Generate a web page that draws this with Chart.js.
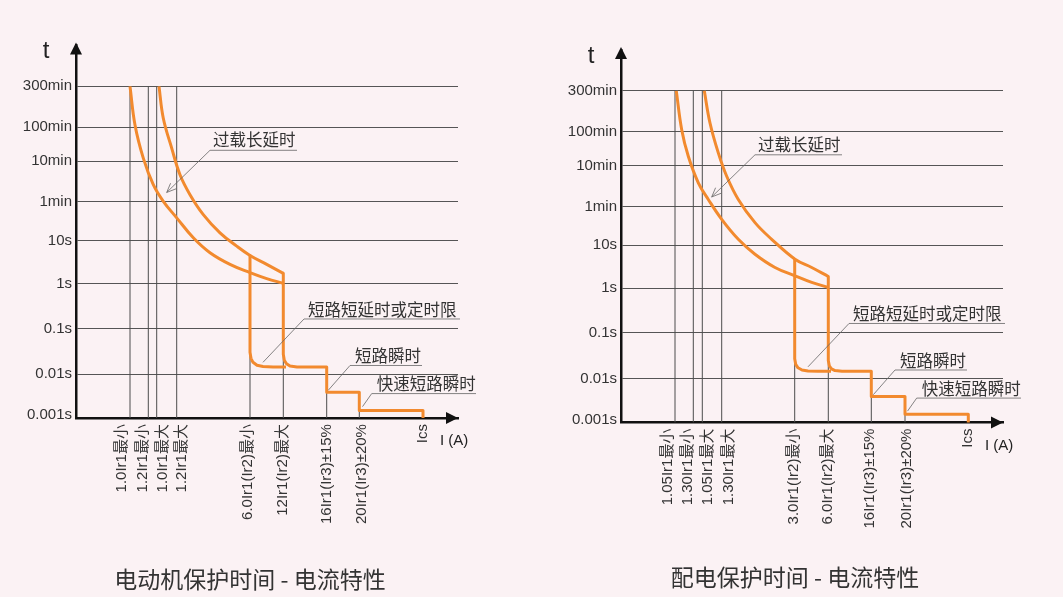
<!DOCTYPE html>
<html lang="zh-CN">
<head>
<meta charset="UTF-8">
<script src="https://cdn.jsdelivr.net/npm/chart.js"></script>
<style>
html, body { margin: 0; padding: 0; background: #fbf2f4; }
body { width: 1063px; height: 597px; position: relative; overflow: hidden; }
.panel { position: absolute; top: 0; width: 500px; height: 597px; }
#left { left: 0; }
#right { left: 545px; }
</style>
</head>
<body>
<div class="panel" id="left"><canvas id="chartL" width="500" height="597"></canvas></div>
<div class="panel" id="right"><canvas id="chartR" width="500" height="597"></canvas></div>
<script>
// time axis: schematic height above the I axis, with its labels
const yLevels = [3, 44, 90, 135, 178, 217, 258, 292, 333];
const yLabels = ['0.001s', '0.01s', '0.1s', '1s', '10s', '1min', '10min', '100min', '300min'];

// left panel - motor protection
const motorTitle = '电动机保护时间 - 电流特性';
const motorLabels = ['1.0Ir1最小', '1.2Ir1最小', '1.0Ir1最大', '1.2Ir1最大', '6.0Ir1(Ir2)最小', '12Ir1(Ir2)最大', '16Ir1(Ir3)±15%', '20Ir1(Ir3)±20%', 'Ics'];
const motorLabelPos = [45.7, 67.3, 87.3, 105.7, 172.3, 206.7, 250.7, 285.7, 346.7];
const motorLines = [54, 72.3, 80.7, 100.7, 174, 207.3, 250.7, 283.3];
const motorLineTop = [333, 333, 333, 333, 163.3, 145.3, 51.3, 26];
const motorUpper = [[83, 333], [87.3, 301], [95.7, 271], [104, 244.3], [114, 224.3], [127.3, 204.3], [144, 186], [160.7, 172.6], [174, 163.3], [190.7, 154.3], [207.3, 145.3]];
const motorLower = [[54, 333], [59, 294.3], [67.3, 261], [77.3, 234.3], [87.3, 217.6], [100.7, 201], [117.3, 181], [134, 166], [154, 154.3], [174, 146], [190.7, 140], [207.3, 135.3]];
const motorStepA = [[207.3, 145.3], [207.3, 64], [208.3, 58], [210.5, 54.5], [214, 52.2], [221, 51.3], [250.7, 51.3], [250.7, 26], [283.3, 26], [283.3, 7.6], [347, 7.6], [347, 0]];
const motorStepB = [[174, 163.3], [174, 66], [175, 60], [177, 56], [181, 53], [187, 51.8], [197, 51.3], [210, 51.3]];

// right panel - distribution protection
const distTitle = '配电保护时间 - 电流特性';
const distLabels = ['1.05Ir1最小', '1.30Ir1最小', '1.05Ir1最大', '1.30Ir1最大', '3.0Ir1(Ir2)最小', '6.0Ir1(Ir2)最大', '16Ir1(Ir3)±15%', '20Ir1(Ir3)±20%', 'Ics'];
const distLabelPos = [47.3, 67.3, 87.3, 108.3, 173, 207.3, 249, 285.7, 347.3];
const distLines = [54, 72.3, 81.3, 100.7, 173.7, 207.3, 250.3, 284];
const distLineTop = [333, 333, 333, 333, 164, 146.7, 51.5, 26.3];
const distUpper = [[83.3, 333], [89, 300.7], [97.3, 270.7], [105.7, 247.3], [117.3, 224], [134, 200.7], [150.7, 184], [174, 164], [190.7, 155.7], [207.3, 146.7]];
const distLower = [[55.3, 333], [60.7, 294], [67.3, 267.3], [77.3, 240.7], [87.3, 224], [100.7, 204], [117.3, 184], [134, 169], [154, 155.7], [174, 147.3], [190.7, 140.7], [207.3, 135.7]];
const distStepA = [[207.3, 146.7], [207.3, 62.3], [208.3, 57], [210.5, 54], [214, 52.2], [221, 51.5], [250.3, 51.5], [250.3, 26.3], [284, 26.3], [284, 8.3], [347.3, 8.3], [347.3, 0]];
const distStepB = [[173.7, 164], [173.7, 64], [174.7, 58.5], [177, 55], [181, 52.8], [187, 51.8], [197, 51.5], [210, 51.5]];

// callouts: text, underline, leader end point
const noteTexts = ['过载长延时', '短路短延时或定时限', '短路瞬时', '快速短路瞬时'];
const noteTextAt = [[137, 279], [232, 109], [279, 62.5], [300.7, 34]];
const noteLine = [[134, 221, 268.8], [228, 384, 99.5], [274, 346, 52.8], [295.7, 400, 24.6]];
const noteTip = [[90.7, 226.5], [187, 56], [252.3, 28], [286.5, 11.5]];

const ORANGE = '#f28a2e';
const SANS = '"Liberation Sans", "Noto Sans CJK SC", sans-serif';
const CJK = '"Noto Sans CJK SC", sans-serif';

Chart.defaults.font.family = SANS;
Chart.defaults.color = '#333';

const pts = arr => arr.map(p => ({ x: p[0], y: p[1] }));

const decor = {
    id: 'decor',
    afterDraw(chart) {
        const ctx = chart.ctx;
        const a = chart.chartArea;
        const xs = chart.scales.x, ys = chart.scales.y;
        const px = v => xs.getPixelForValue(v), py = v => ys.getPixelForValue(v);
        ctx.save();
        // arrow heads on the axes
        ctx.fillStyle = '#111';
        ctx.beginPath();
        ctx.moveTo(a.left, a.top - 3);
        ctx.lineTo(a.left - 6, a.top + 9);
        ctx.lineTo(a.left + 6, a.top + 9);
        ctx.closePath();
        ctx.fill();
        ctx.beginPath();
        ctx.moveTo(a.right, a.bottom);
        ctx.lineTo(a.right - 12, a.bottom - 6);
        ctx.lineTo(a.right - 12, a.bottom + 6);
        ctx.closePath();
        ctx.fill();
        // axis names
        ctx.fillStyle = '#222';
        ctx.font = '24px ' + SANS;
        ctx.textAlign = 'center';
        ctx.textBaseline = 'middle';
        ctx.fillText('t', a.left - 30, a.top + 6);
        ctx.font = '15px ' + SANS;
        ctx.textAlign = 'left';
        ctx.fillText('I (A)', a.right - 18, a.bottom + 23);
        // callouts
        ctx.font = '16.5px ' + CJK;
        noteTexts.forEach((t, i) => {
            ctx.fillStyle = '#333';
            ctx.fillText(t, px(noteTextAt[i][0]), py(noteTextAt[i][1]));
            const [x0, x1, y] = noteLine[i];
            const tx = px(noteTip[i][0]), ty = py(noteTip[i][1]);
            ctx.strokeStyle = '#666';
            ctx.lineWidth = 0.8;
            ctx.beginPath();
            ctx.moveTo(px(x1), py(y));
            ctx.lineTo(px(x0), py(y));
            ctx.lineTo(tx, ty);
            ctx.stroke();
            if (i === 0) {
                const ang = Math.atan2(ty - py(y), tx - px(x0));
                ctx.beginPath();
                ctx.moveTo(tx - 10 * Math.cos(ang - 0.4), ty - 10 * Math.sin(ang - 0.4));
                ctx.lineTo(tx, ty);
                ctx.lineTo(tx - 10 * Math.cos(ang + 0.4), ty - 10 * Math.sin(ang + 0.4));
                ctx.stroke();
            }
        });
        ctx.restore();
    }
};

function panel(id, p) {
    const datasets = [];
    p.lines.forEach((x, i) => {
        datasets.push({ data: pts([[x, 0], [x, p.lineTop[i]]]), borderColor: '#4d4d4d', borderWidth: 1, order: 2 });
    });
    [p.upper, p.lower].forEach(c => datasets.push({ data: pts(c), borderColor: ORANGE, borderWidth: 3, tension: 0.4, order: 1 }));
    [p.stepA, p.stepB].forEach(c => datasets.push({ data: pts(c), borderColor: ORANGE, borderWidth: 3, tension: 0, order: 1 }));

    return new Chart(document.getElementById(id), {
        type: 'scatter',
        data: { datasets: datasets },
        plugins: [decor],
        options: {
            responsive: false,
            animation: false,
            showLine: true,
            elements: { point: { radius: 0 }, line: { borderJoinStyle: 'round', borderCapStyle: 'butt' } },
            layout: { padding: { top: p.top, right: 0, left: 0, bottom: 0 } },
            plugins: {
                legend: { display: false },
                tooltip: { enabled: false },
                title: {
                    display: true, text: p.title, position: 'bottom', color: '#333',
                    font: { family: CJK, size: 23, weight: 'normal' },
                    padding: { top: 0, bottom: p.titlePad }
                }
            },
            scales: {
                x: {
                    type: 'linear', min: 0, max: 382,
                    afterBuildTicks: s => { s.ticks = p.labelPos.map(v => ({ value: v })); },
                    afterFit: s => { s.height = p.xH; },
                    ticks: {
                        autoSkip: false, minRotation: 90, maxRotation: 90, padding: -2,
                        font: { size: 15 }, color: '#333',
                        callback: (v, i) => p.labels[i]
                    },
                    grid: { display: false },
                    border: { color: '#111', width: 2.5 }
                },
                y: {
                    type: 'linear', min: 0, max: 374,
                    afterBuildTicks: s => { s.ticks = yLevels.map(v => ({ value: v })); },
                    afterFit: s => { s.width = 76; },
                    ticks: { padding: 4, font: { size: 15 }, color: '#333', callback: (v, i) => yLabels[i] },
                    grid: { drawTicks: false, lineWidth: 1, color: c => c.index === 0 ? 'rgba(0,0,0,0)' : '#555' },
                    border: { color: '#111', width: 2.5 }
                },
                // empty right-hand axis: keeps room for the callout text
                side: {
                    type: 'linear', position: 'right', min: 0, max: 1,
                    afterFit: s => { s.width = 42; },
                    ticks: { display: false },
                    grid: { display: false },
                    border: { display: false }
                }
            }
        }
    });
}

panel('chartL', {
    title: motorTitle, labels: motorLabels, labelPos: motorLabelPos, lines: motorLines, lineTop: motorLineTop,
    upper: motorUpper, lower: motorLower, stepA: motorStepA, stepB: motorStepB,
    top: 45.5, xH: 147.5, titlePad: 3.8
});
panel('chartR', {
    title: distTitle, labels: distLabels, labelPos: distLabelPos, lines: distLines, lineTop: distLineTop,
    upper: distUpper, lower: distLower, stepA: distStepA, stepB: distStepB,
    top: 50, xH: 141, titlePad: 5.8
});
</script>
</body>
</html>
